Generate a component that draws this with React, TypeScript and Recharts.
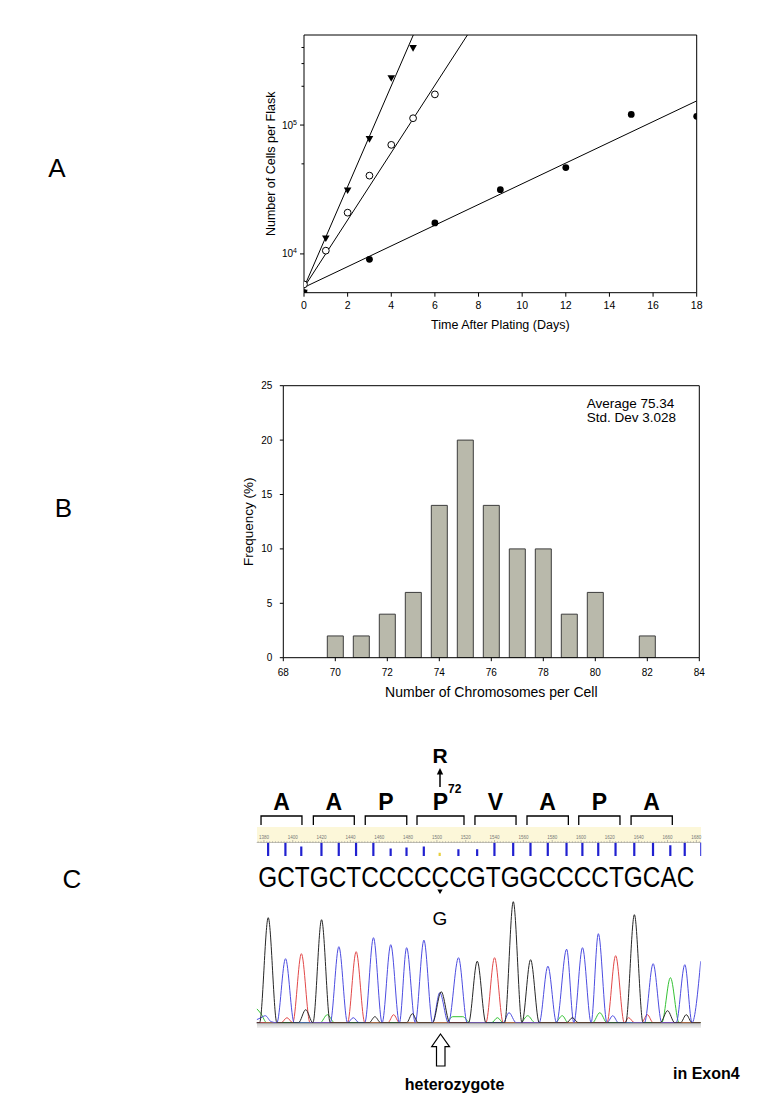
import { Bar, BarChart, Cell, ComposedChart, Line, LineChart, ReferenceLine, Scatter, XAxis, YAxis } from "recharts";

const FONT = '"Liberation Sans", Arial, Helvetica, sans-serif';

// ---- Panel A: growth curves (log scale) ----
const FAST_DAYS = [0, 1, 2, 3, 4, 5];
const FAST_CELLS = [5000, 13200, 31100, 77900, 231000, 396000];
const MID_DAYS = [0, 1, 2, 3, 4, 5, 6];
const MID_CELLS = [5800, 10600, 20900, 40500, 70200, 113000, 173000];
const SLOW_DAYS = [0, 3, 6, 9, 12, 15, 18];
const SLOW_CELLS = [5000, 9070, 17400, 31500, 46800, 121000, 117000];

// regression line end points
const FAST_FIT_DAYS = [0, 5.01];
const FAST_FIT_CELLS = [5500, 500000];
const MID_FIT_DAYS = [0, 7.49];
const MID_FIT_CELLS = [5500, 500000];
const SLOW_FIT_DAYS = [0, 18];
const SLOW_FIT_CELLS = [5500, 154000];

const DAY_TICKS = [0, 2, 4, 6, 8, 10, 12, 14, 16, 18];
const CELL_TICKS = [10000, 50000, 100000, 200000, 300000, 400000];

// ---- Panel B: chromosome count histogram ----
const CHROMOSOMES = [70, 71, 72, 73, 74, 75, 76, 77, 78, 79, 80, 82];
const FREQUENCY = [2, 2, 4, 6, 14, 20, 14, 10, 10, 4, 6, 2];
const CHROMO_TICKS = [68, 70, 72, 74, 76, 78, 80, 82, 84];
const FREQ_TICKS = [0, 5, 10, 15, 20, 25];

// ---- Panel C: sequencing trace ----
const SCAN_DOMAIN: [number, number] = [1375, 1683];
const SEQUENCE = "GCTGCTCCCCCCGTGGCCCCTGCAC";
const BASE_POS = [1383, 1395, 1406, 1420, 1432, 1444, 1456, 1468, 1479, 1491, 1502, 1515, 1528,
  1540, 1553, 1565, 1577, 1590, 1601, 1612, 1624, 1637, 1650, 1662, 1672];
const QUALITY = [40, 40, 28, 40, 40, 40, 40, 22, 25, 28, 10, 20, 20,
  40, 40, 40, 40, 40, 40, 40, 40, 40, 40, 32, 40];
const HET_INDEX = 10;
const CODON_AA = ["A", "A", "P", "P", "V", "A", "P", "A"];
const CODON_START = [1378, 1414.3, 1450.3, 1486.2, 1526.4, 1562.5, 1598.4, 1634.7];
const CODON_END = [1406.4, 1442.7, 1479.1, 1518.8, 1554.9, 1591.2, 1627, 1663.3];
const RULER_STEP = 2;
const RULER_TICKS = Array.from({ length: 154 }, (_, i) => 1376 + i * RULER_STEP);

// chromatogram traces: [scan, signal]
const TRACE_G = [[1375, 0], [1377, 0], [1383, 105], [1389, 0], [1404, 0], [1409, 13], [1414, 0], [1420, 103],
  [1426, 0], [1453, 0], [1457, 6], [1461, 0], [1479, 0], [1483, 9], [1487, 0], [1497, 0], [1503, 31], [1509, 0],
  [1522, 0], [1528, 61.5], [1534, 0], [1547, 0], [1553, 121], [1559, 0], [1565, 63], [1571, 0], [1590, 0],
  [1594, 5], [1598, 0], [1631, 0], [1637, 108], [1643, 0], [1655, 0], [1660, 12], [1665, 0], [1669, 0],
  [1673, 8], [1677, 0], [1683, 0]];
const TRACE_C = [[1375, 3], [1378, 5], [1381, 7], [1385, 1], [1389, 0], [1395, 64], [1401, 0], [1426, 0],
  [1432, 76], [1438, 0], [1442, 5], [1446, 0], [1450, 0], [1456, 85], [1462, 0], [1468, 78], [1474, 0],
  [1479, 75], [1485, 0], [1491, 82.5], [1497, 0], [1502, 30], [1508, 0], [1515, 65], [1521, 0], [1546, 0],
  [1550, 10], [1555, 0], [1571, 0], [1577, 56.5], [1583, 0], [1590, 73.5], [1595, 0], [1601, 75], [1607, 0],
  [1612, 89], [1618, 0], [1622, 7], [1626, 0], [1644, 0], [1650, 59], [1656, 0], [1666, 0], [1672, 58],
  [1677, 0], [1683, 61.5]];
const TRACE_T = [[1375, 0], [1392, 0], [1396, 5], [1400, 0], [1406, 69], [1412, 0], [1438, 0], [1444, 71],
  [1450, 0], [1466, 0], [1470, 8], [1474, 0], [1534, 0], [1540, 65], [1546, 0], [1618, 0], [1624, 67],
  [1630, 0], [1633, 5], [1637, 0], [1642, 0], [1646, 8], [1650, 0], [1683, 0]];
const TRACE_A = [[1375, 14], [1378, 9], [1382, 0], [1419, 0], [1424, 8], [1429, 0], [1506, 0], [1511, 6],
  [1518, 6], [1523, 0], [1538, 0], [1542, 5], [1546, 0], [1558, 0], [1563, 7], [1568, 0], [1582, 0], [1587, 7],
  [1591, 0], [1608, 0], [1613, 10], [1618, 0], [1656, 0], [1662, 45], [1668, 0], [1683, 0]];

const pairs = (xs: number[], ys: number[]) => xs.map((x, i) => ({ x, y: ys[i] }));
const tracePts = (t: number[][]) => t.map(([s, h]) => ({ s, h }));

const histData = CHROMOSOMES.map((n, i) => ({ n, f: FREQUENCY[i] }));
const qualityData = BASE_POS.map((s, i) => ({ s, q: QUALITY[i] }));
const codonBrackets = CODON_START.map((a, i) => [
  { s: a, y: 1 }, { s: a, y: 2.8 }, { s: CODON_END[i], y: 2.8 }, { s: CODON_END[i], y: 1 },
]);
const codonLabels = CODON_AA.map((aa, i) => ({ s: (CODON_START[i] + CODON_END[i]) / 2, y: 4, aa }));

const DownTriangle = (p: any) => (
  <path d={`M${p.cx - 3.8},${p.cy - 3} L${p.cx + 3.8},${p.cy - 3} L${p.cx},${p.cy + 3.6} Z`} fill="#000" />
);
const OpenCircle = (p: any) => <circle cx={p.cx} cy={p.cy} r={3.4} fill="#fff" stroke="#000" strokeWidth={1} />;
const FilledCircle = (p: any) => <circle cx={p.cx} cy={p.cy} r={3.4} fill="#000" />;

const LogTick = (props: any) => {
  const { x, y, payload } = props;
  const v = payload.value;
  const exp = Math.round(Math.log10(v));
  const major = Math.abs(Math.pow(10, exp) - v) < 1e-6 * v;
  return (
    <g>
      <line x1={x} x2={x - (major ? 4 : 2.5)} y1={y} y2={y} stroke="#000" />
      {major && (
        <text x={x - 7} y={y + 3.5} textAnchor="end" fontSize={10} fill="#000">
          10<tspan dy={-4} fontSize={7}>{exp}</tspan>
        </text>
      )}
    </g>
  );
};

const RulerTick = (props: any) => {
  const { x, y, payload } = props;
  const major = payload.value % 20 === 0;
  return (
    <g>
      <line x1={x} x2={x} y1={y} y2={y - (major ? 2.4 : 1.2)} stroke="#8a8a8a" strokeWidth={0.6} />
      {major && (
        <text x={x} y={y - 4} fontSize={4.5} fill="#777" textAnchor="middle">{payload.value}</text>
      )}
    </g>
  );
};

const AminoAcid = (p: any) => (
  <text x={p.cx} y={p.cy} textAnchor="middle" fontSize={23} fontWeight="bold" fill="#000">{p.payload.aa}</text>
);

function GrowthChart() {
  return (
    <ComposedChart width={529} height={345} margin={{ top: 35, right: 62.3, bottom: 22.3, left: 30 }}>
      <XAxis type="number" dataKey="x" domain={[0, 18]} ticks={DAY_TICKS} interval={0} allowDataOverflow
        tick={{ fontSize: 10.5, fill: "#000" }} tickSize={4} tickMargin={5} stroke="#000" height={30}
        label={{ value: "Time After Plating (Days)", position: "bottom", offset: -3, fontSize: 12.5, fill: "#000" }} />
      <YAxis type="number" dataKey="y" scale="log" domain={[5000, 500000]} ticks={CELL_TICKS} interval={0}
        allowDataOverflow tick={<LogTick />} tickLine={false} tickSize={0} tickMargin={0} stroke="#000" width={44}
        label={{ value: "Number of Cells per Flask", angle: -90, position: "insideLeft", offset: 10.7,
          fontSize: 12.5, fill: "#000", style: { textAnchor: "middle" } }} />
      <ReferenceLine y={500000} stroke="#000" />
      <ReferenceLine x={18} stroke="#000" />
      <Line data={pairs(FAST_FIT_DAYS, FAST_FIT_CELLS)} dataKey="y" stroke="#000" strokeWidth={1} dot={false} isAnimationActive={false} />
      <Line data={pairs(MID_FIT_DAYS, MID_FIT_CELLS)} dataKey="y" stroke="#000" strokeWidth={1} dot={false} isAnimationActive={false} />
      <Line data={pairs(SLOW_FIT_DAYS, SLOW_FIT_CELLS)} dataKey="y" stroke="#000" strokeWidth={1} dot={false} isAnimationActive={false} />
      <Scatter data={pairs(FAST_DAYS, FAST_CELLS)} shape={DownTriangle} isAnimationActive={false} />
      <Scatter data={pairs(MID_DAYS, MID_CELLS)} shape={OpenCircle} isAnimationActive={false} />
      <Scatter data={pairs(SLOW_DAYS, SLOW_CELLS)} shape={FilledCircle} isAnimationActive={false} />
    </ComposedChart>
  );
}

function KaryotypeChart() {
  return (
    <BarChart width={529} height={360} data={histData} margin={{ top: 40.7, right: 59.7, bottom: 17.3, left: 13.3 }}>
      <XAxis type="number" dataKey="n" domain={[68, 84]} ticks={CHROMO_TICKS} interval={0} allowDataOverflow
        tick={{ fontSize: 10, fill: "#000" }} tickSize={3.5} tickMargin={8} stroke="#000" height={30}
        label={{ value: "Number of Chromosomes per Cell", position: "bottom", offset: -1, fontSize: 14, fill: "#000" }} />
      <YAxis type="number" domain={[0, 25]} ticks={FREQ_TICKS} interval={0} allowDataOverflow
        tick={{ fontSize: 10, fill: "#000" }} tickSize={3.5} tickMargin={7.5} stroke="#000" width={40}
        label={{ value: "Frequency (%)", angle: -90, position: "insideLeft", offset: 5,
          fontSize: 13.5, fill: "#000", style: { textAnchor: "middle" } }} />
      <ReferenceLine y={25} stroke="#000" />
      <ReferenceLine x={84} stroke="#000" />
      <Bar dataKey="f" barSize={16} fill="#b9b9ab" stroke="#3c3c3c" strokeWidth={1} isAnimationActive={false} />
    </BarChart>
  );
}

function CodonChart() {
  return (
    <ComposedChart width={480} height={50} margin={{ top: 0, right: 19.3, bottom: 0, left: 16.7 }}>
      <XAxis type="number" dataKey="s" domain={SCAN_DOMAIN} hide allowDataOverflow />
      <YAxis type="number" dataKey="y" domain={[0, 10]} hide allowDataOverflow />
      {codonBrackets.map((pts, i) => (
        <Line key={i} data={pts} dataKey="y" type="linear" stroke="#000" strokeWidth={1.3} dot={false} isAnimationActive={false} />
      ))}
      <Scatter data={codonLabels} shape={AminoAcid} isAnimationActive={false} />
    </ComposedChart>
  );
}

function QualityChart() {
  return (
    <BarChart width={480} height={74} data={qualityData} margin={{ top: 2.5, right: 19.3, bottom: 44, left: 16.7 }}>
      <XAxis orientation="top" type="number" dataKey="s" domain={SCAN_DOMAIN} ticks={RULER_TICKS} interval={0}
        allowDataOverflow tick={<RulerTick />} tickLine={false} tickSize={0} tickMargin={0}
        axisLine={{ stroke: "#999", strokeWidth: 0.6 }} height={14} />
      <YAxis type="number" domain={[0, 40]} hide allowDataOverflow />
      <ReferenceLine x={1683} stroke="#2a2ad8" strokeWidth={1} />
      <Bar dataKey="q" barSize={2.2} isAnimationActive={false}>
        {qualityData.map((_, i) => (
          <Cell key={i} fill={i === HET_INDEX ? "#e8cf3a" : "#2020d0"} />
        ))}
      </Bar>
    </BarChart>
  );
}

function TraceChart() {
  return (
    <LineChart width={480} height={135} margin={{ top: 2.7, right: 19.3, bottom: 7.3, left: 16.7 }}>
      <XAxis type="number" dataKey="s" domain={SCAN_DOMAIN} hide allowDataOverflow />
      <YAxis type="number" dataKey="h" domain={[0, 125]} hide allowDataOverflow />
      <ReferenceLine y={0} stroke="#555" strokeWidth={1.6} />
      <Line data={tracePts(TRACE_A)} dataKey="h" type="monotone" stroke="#34c234" strokeWidth={1} dot={false} isAnimationActive={false} />
      <Line data={tracePts(TRACE_T)} dataKey="h" type="monotone" stroke="#e24848" strokeWidth={1} dot={false} isAnimationActive={false} />
      <Line data={tracePts(TRACE_C)} dataKey="h" type="monotone" stroke="#4c4ce0" strokeWidth={1} dot={false} isAnimationActive={false} />
      <Line data={tracePts(TRACE_G)} dataKey="h" type="monotone" stroke="#262626" strokeWidth={1} dot={false} isAnimationActive={false} />
    </LineChart>
  );
}

export default function App() {
  return (
    <div style={{ position: "absolute", left: 0, top: 0, width: 759, height: 1099, background: "#fff", fontFamily: FONT }}>
      <div style={{ position: "absolute", left: 230, top: 0 }}><GrowthChart /></div>
      <div style={{ position: "absolute", left: 230, top: 345 }}><KaryotypeChart /></div>
      <div style={{ position: "absolute", left: 256.7, top: 827, width: 444, height: 15.5, background: "#fcf7d9" }} />
      <div style={{ position: "absolute", left: 256.7, top: 1023.5, width: 444, height: 4,
        background: "linear-gradient(#cfcfcf, #f2f2f2)" }} />
      <div style={{ position: "absolute", left: 240, top: 780 }}><CodonChart /></div>
      <div style={{ position: "absolute", left: 240, top: 826 }}><QualityChart /></div>
      <div style={{ position: "absolute", left: 240, top: 895 }}><TraceChart /></div>
      <svg width={759} height={1099} style={{ position: "absolute", left: 0, top: 0, pointerEvents: "none" }} fontFamily={FONT}>
        <text x={57} y={177} fontSize={26} textAnchor="middle">A</text>
        <text x={63.5} y={517} fontSize={26} textAnchor="middle">B</text>
        <text x={72} y={888} fontSize={26} textAnchor="middle">C</text>
        <text x={586.7} y={408.3} fontSize={13.5}>Average 75.34</text>
        <text x={586.7} y={422.3} fontSize={13.5}>Std. Dev 3.028</text>
        <text x={440} y={763.3} fontSize={21} fontWeight="bold" textAnchor="middle">R</text>
        <line x1={440} y1={787} x2={440} y2={773} stroke="#000" strokeWidth={1.5} />
        <path d="M436.8,774.5 L443.2,774.5 L440,768 Z" fill="#000" />
        <text x={448} y={793} fontSize={12} fontWeight="bold">72</text>
        <g transform="translate(258.3,886.7) scale(0.8125,1)">
          <text x={0} y={0} fontSize={30}>{SEQUENCE}</text>
        </g>
        <path d="M437.3,889.5 L442.7,889.5 L440,894 Z" fill="#000" />
        <text x={440} y={925} fontSize={19} textAnchor="middle">G</text>
        <path d="M440.5,1034 L449.5,1046.7 L445,1046.7 L445,1066 L436.5,1066 L436.5,1046.7 L431.7,1046.7 Z"
          fill="#fff" stroke="#000" strokeWidth={1.2} />
        <text x={454.5} y={1090} fontSize={16} fontWeight="bold" textAnchor="middle">heterozygote</text>
        <text x={673} y={1079} fontSize={16} fontWeight="bold">in Exon4</text>
      </svg>
    </div>
  );
}
